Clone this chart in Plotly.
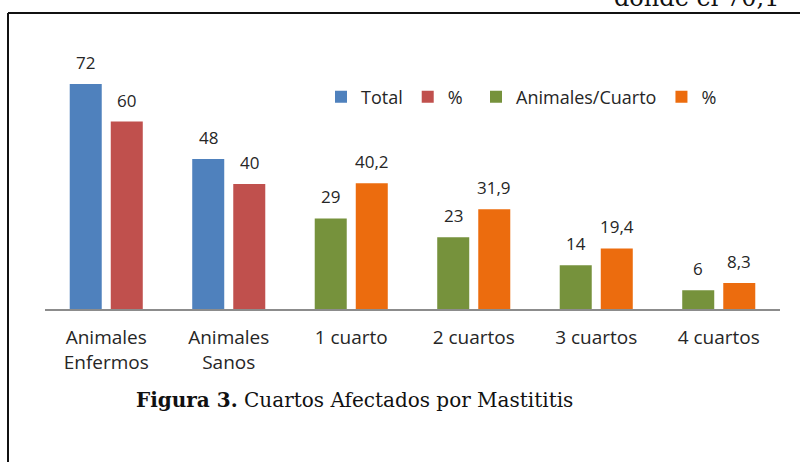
import plotly.graph_objects as go

categories = ["Animales<br>Enfermos", "Animales<br>Sanos", "1 cuarto", "2 cuartos", "3 cuartos", "4 cuartos"]
total_vals = [72, 48, None, None, None, None]
total_pct = [60, 40, None, None, None, None]
cuarto_vals = [None, None, 29, 23, 14, 6]
cuarto_pct = [None, None, 40.2, 31.9, 19.4, 8.3]

C_BLUE = "#4F81BD"
C_RED = "#C0504D"
C_GREEN = "#76923C"
C_ORANGE = "#EC6C0E"

W, H = 800, 462
ML, MR, MT, MB = 45, 20, 59, 153
PW, PH = W - ML - MR, H - MT - MB

def px_x(p):
    return (p - ML) / PW

def px_y(p):
    return (H - MB - p) / PH

fig = go.Figure()
series = [
    ("Total", total_vals, C_BLUE, "a", "legend"),
    ("%", total_pct, C_RED, "b", "legend"),
    ("Animales/Cuarto", cuarto_vals, C_GREEN, "a", "legend2"),
    ("%", cuarto_pct, C_ORANGE, "b", "legend2"),
]
for name, vals, col, og, lg in series:
    fig.add_trace(go.Bar(x=categories, y=vals, name=name, marker_color=col,
                         offsetgroup=og, legend=lg, marker_line_width=0))

annots = []
for name, vals, col, og, lg in series:
    shift = -20.5 if og == "a" else 20.5
    for c, v in zip(categories, vals):
        if v is None:
            continue
        annots.append(dict(x=c, y=v, xref="x", yref="y", text=f"{v:g}".replace(".", ","),
                           showarrow=False, xshift=shift, yshift=8, yanchor="bottom",
                           font=dict(family="Open Sans", size=17, color="#262626")))

annots.append(dict(xref="paper", yref="paper", x=px_x(354),
                   y=px_y(400), xanchor="center", yanchor="middle", showarrow=False,
                   text="<b>Figura 3.</b> Cuartos Afectados por Mastititis",
                   font=dict(family="DejaVu Serif", size=20, color="#111111")))
annots.append(dict(xref="paper", yref="paper", x=px_x(612), y=px_y(-2), xanchor="left", yanchor="middle",
                   showarrow=False, text="donde el 70,1",
                   font=dict(family="DejaVu Serif", size=24, color="#111111")))

legend_common = dict(orientation="h", xref="container", yref="container",
                     y=1 - 97 / H, xanchor="left", yanchor="middle",
                     font=dict(family="Open Sans", size=18, color="#262626"),
                     bgcolor="rgba(0,0,0,0)", itemwidth=30, tracegroupgap=0)

fig.update_layout(
    width=W, height=H,
    margin=dict(l=ML, r=MR, t=MT, b=MB, pad=0, autoexpand=False),
    paper_bgcolor="white", plot_bgcolor="white",
    barmode="group", bargap=0.33, bargroupgap=0.22,
    annotations=annots,
    font=dict(family="Open Sans", color="#262626"),
    legend=dict(legend_common, x=321 / W),
    legend2=dict(legend_common, x=476 / W),
    xaxis=dict(showgrid=False, showline=True, linecolor="#8C8C8C", linewidth=2,
               ticks="", tickfont=dict(family="Open Sans", size=19, color="#262626"),
               ticklabelstandoff=10, fixedrange=True),
    yaxis=dict(range=[0, 80], visible=False, showgrid=False, zeroline=False, fixedrange=True),
    shapes=[
        dict(type="line", xref="paper", yref="paper", x0=px_x(8), x1=px_x(810), y0=px_y(13), y1=px_y(13),
             line=dict(color="#111111", width=2)),
        dict(type="line", xref="paper", yref="paper", x0=px_x(8), x1=px_x(8), y0=px_y(13), y1=px_y(470),
             line=dict(color="#111111", width=2)),
    ],
)

fig.write_html("out.html")
